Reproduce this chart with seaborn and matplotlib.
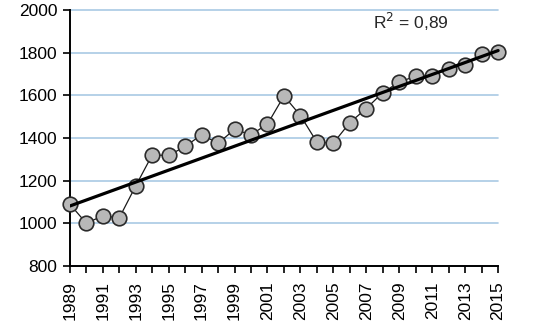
'''line chart with linear trend, 1989-2015'''
import numpy as np
import pandas as pd
import seaborn as sns
import matplotlib
matplotlib.use('Agg')
import matplotlib.pyplot as plt

years = list(range(1989, 2016))
values = [1090, 1000, 1035, 1025, 1175, 1320, 1318, 1360, 1415, 1375,
          1440, 1415, 1465, 1597, 1505, 1380, 1376, 1472, 1538, 1613,
          1662, 1690, 1690, 1725, 1742, 1795, 1805]
r2_label = 'R$^2$ = 0,89'

df = pd.DataFrame({'year': years, 'value': values})

sns.set_theme(style='white')
plt.rcParams['font.family'] = ['Liberation Sans', 'DejaVu Sans']

fig = plt.figure(figsize=(5.33, 3.32), dpi=100)
ax = fig.add_axes([0.131, 0.199, 0.819, 0.771])

for yv in range(800, 2001, 200):
    ax.plot([1989, 2015], [yv, yv], color='#a9c9e4', lw=1.2, zorder=0, clip_on=False)

sns.lineplot(data=df, x='year', y='value', ax=ax, color='#1a1a1a', lw=0.9,
             marker='o', markersize=10.5, markerfacecolor='#b8b8b8',
             markeredgecolor='#2a2a2a', markeredgewidth=1.2, zorder=3,
             clip_on=False)
sns.regplot(data=df, x='year', y='value', ax=ax, scatter=False, ci=None,
            truncate=True, line_kws={'color': 'black', 'lw': 2.3, 'zorder': 4})

ax.set_xlim(1989, 2015.5)
ax.set_ylim(800, 2000)
ax.set_xticks(years)
ax.set_xticklabels([str(y) if (y - 1989) % 2 == 0 else '' for y in years],
                   rotation=90)
ax.set_yticks(range(800, 2001, 200))
ax.set_xlabel('')
ax.set_ylabel('')
ax.tick_params(axis='both', labelsize=12.5, colors='black', length=5, width=1.2,
               direction='out', bottom=True, left=True, pad=4)
ax.tick_params(axis='x', pad=6)
sns.despine(ax=ax)
ax.spines['left'].set_color('black')
ax.spines['bottom'].set_color('black')
ax.spines['left'].set_linewidth(1.4)
ax.spines['bottom'].set_linewidth(1.4)
ax.spines['bottom'].set_bounds(1989, 2015)

ax.text(2007.4, 1945, r2_label, fontsize=12.5, ha='left', va='center')

fig.savefig('out.png', dpi=100)
